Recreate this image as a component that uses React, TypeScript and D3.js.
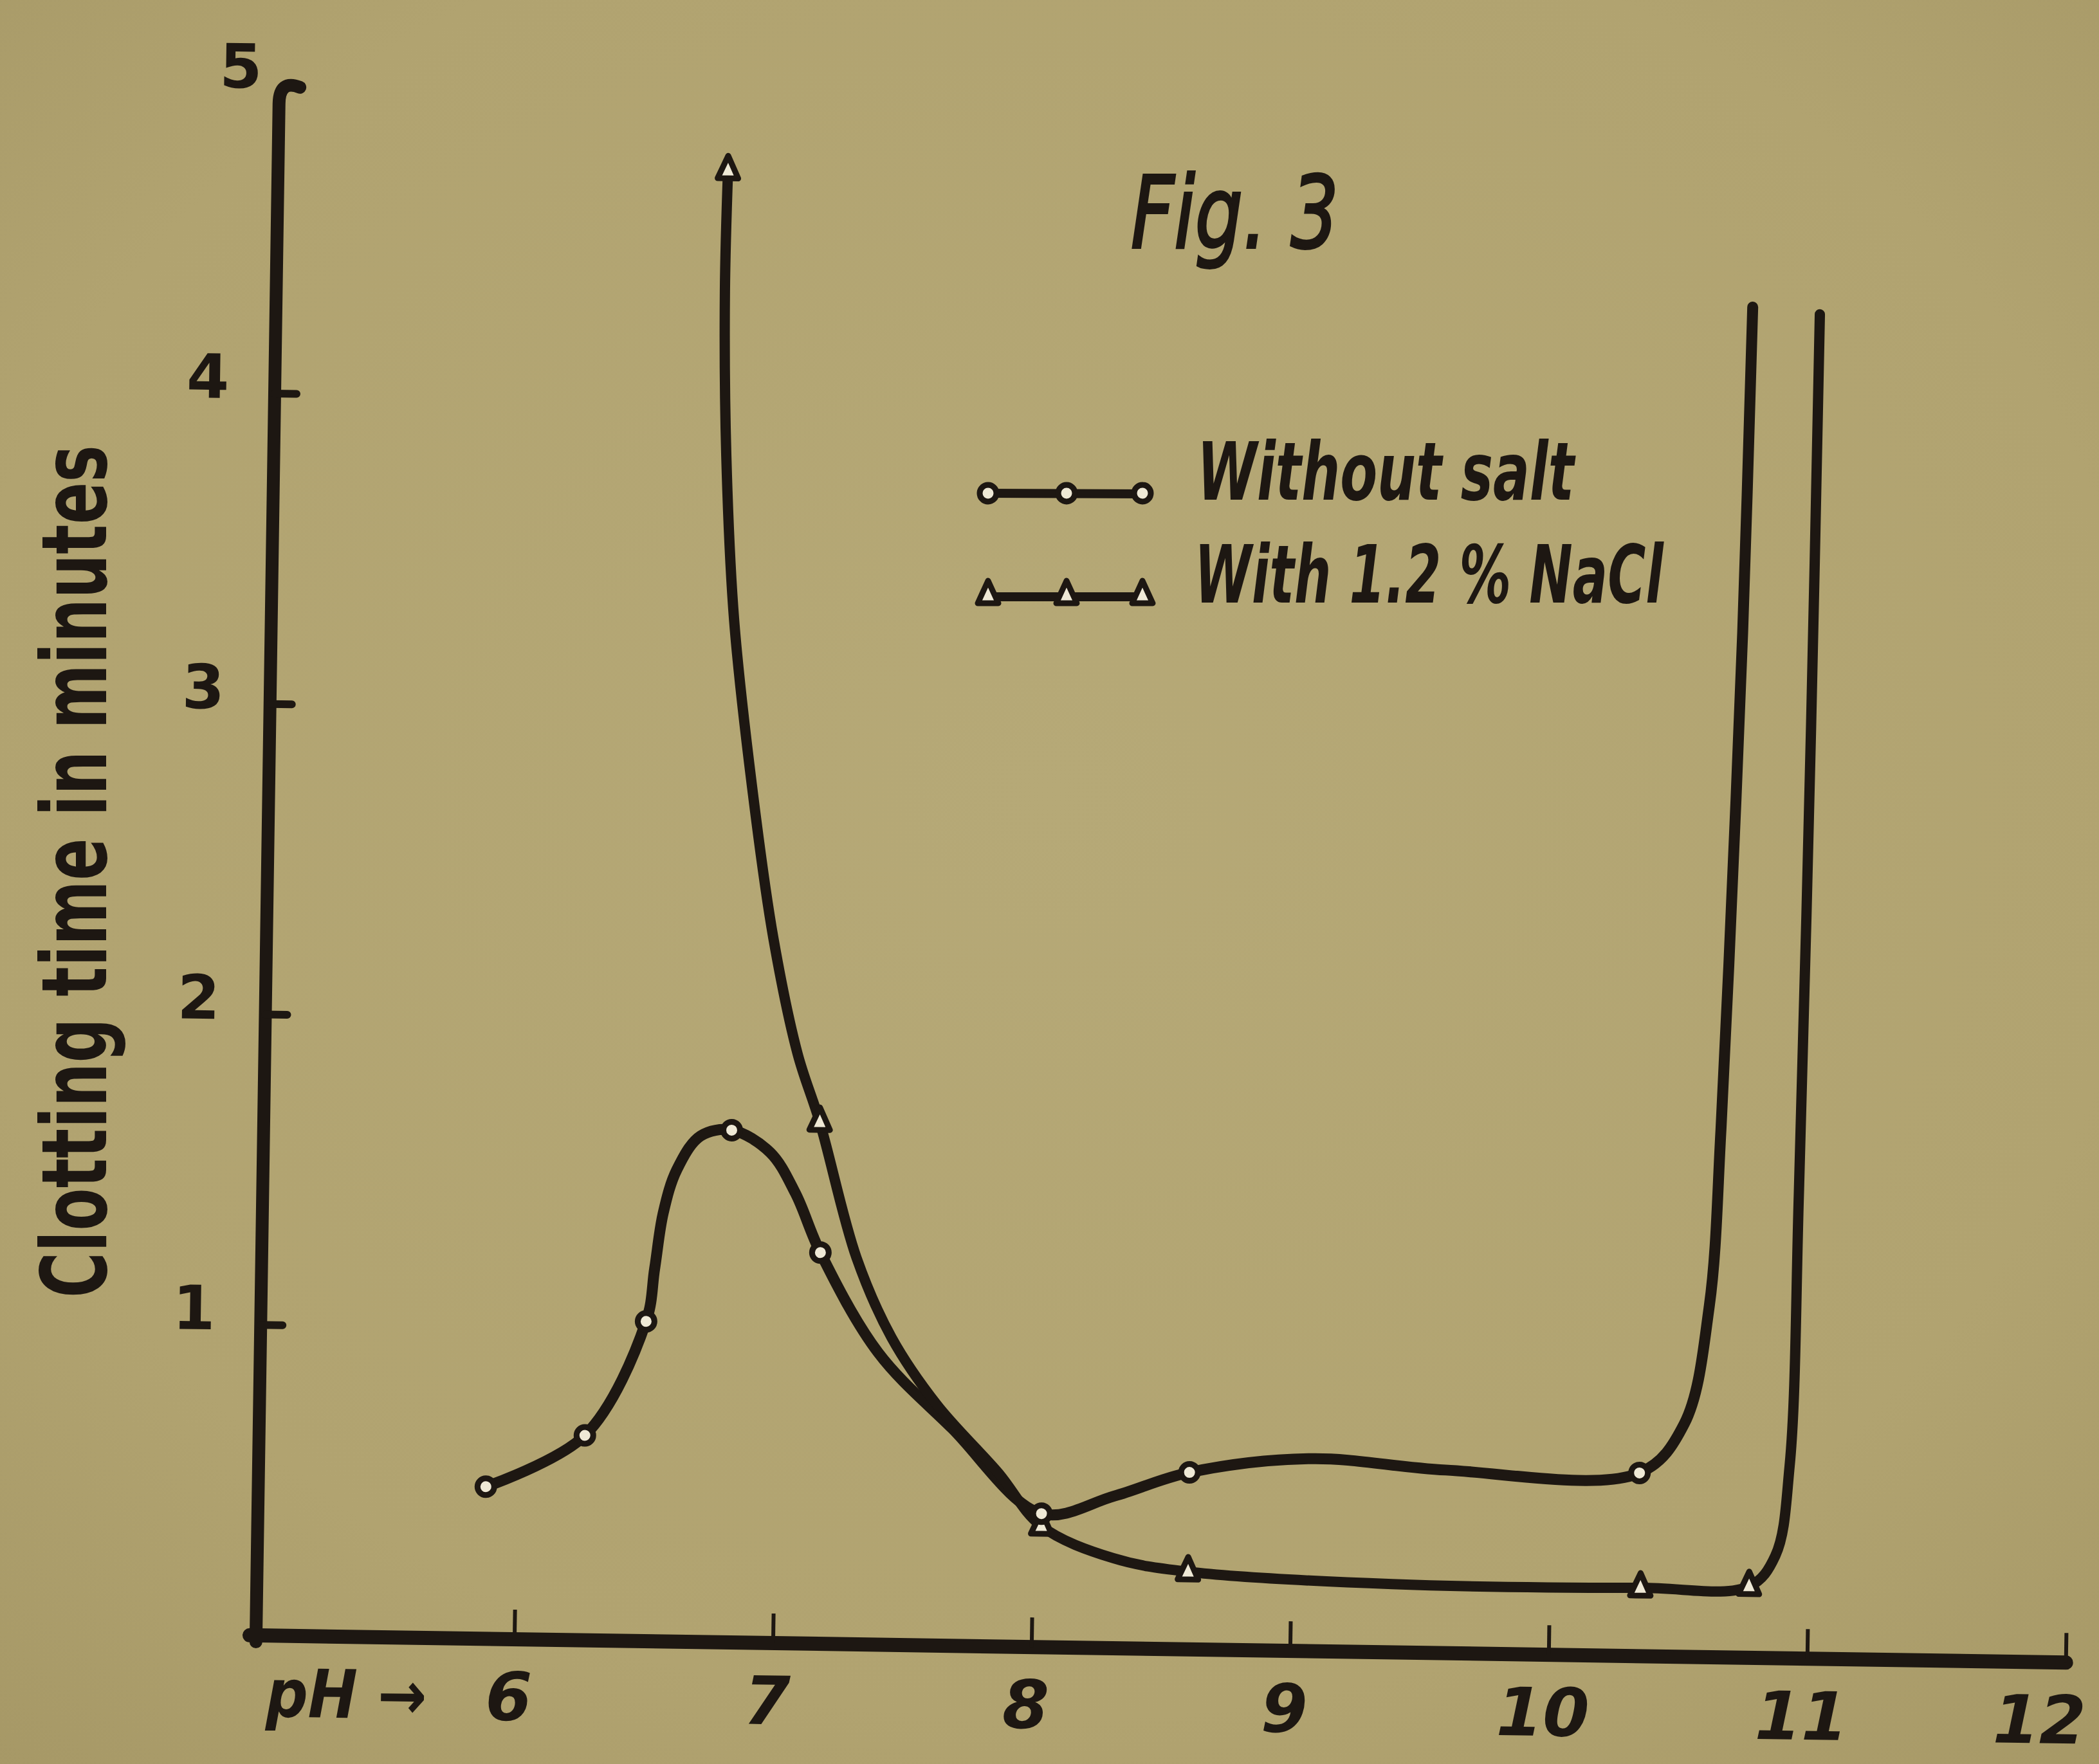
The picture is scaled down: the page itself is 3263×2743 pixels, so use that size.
import React, { useEffect } from 'react';
import * as d3 from 'd3';

// ---------- data ----------
const phTicks = [6, 7, 8, 9, 10, 11, 12];
const timeTicks = [1, 2, 3, 4, 5];
const figTitle = 'Fig. 3';
const yTitle = 'Clotting time in minutes';
const xTitle = 'pH \u2192';
const seriesNames = ['Without salt', 'With 1.2 % NaCl'];

// Without salt – measured points (open circles)
const noSaltMarkers: [number, number][] = [
  [5.88, 0.49], [6.26, 0.66], [6.49, 1.03], [6.81, 1.65], [7.16, 1.26],
  [8.03, 0.43], [8.60, 0.57], [10.34, 0.59],
];
// Without salt – traced course of the hand-drawn curve
const noSaltCurve: [number, number][] = [
  [5.88, 0.49], [6.26, 0.66], [6.49, 1.03], [6.52, 1.20], [6.55, 1.38],
  [6.60, 1.52], [6.69, 1.63], [6.81, 1.65], [6.96, 1.58], [7.06, 1.45],
  [7.16, 1.26], [7.39, 0.94], [7.68, 0.70], [8.03, 0.43], [8.31, 0.49],
  [8.60, 0.57], [9.07, 0.62], [9.59, 0.59], [10.34, 0.59], [10.51, 0.75],
  [10.60, 1.13], [10.635, 1.70], [10.665, 2.50], [10.69, 3.30], [10.71, 4.35],
];

// With 1.2 % NaCl – measured points (open triangles)
const saltMarkers: [number, number][] = [
  [6.74, 4.74], [7.15, 1.68], [8.03, 0.39], [8.60, 0.25], [10.35, 0.22], [10.77, 0.23],
];
// With 1.2 % NaCl – traced course of the hand-drawn curve
const saltCurve: [number, number][] = [
  [6.74, 4.74], [6.735, 4.35], [6.75, 3.82], [6.79, 3.29], [6.88, 2.69],
  [6.96, 2.27], [7.06, 1.90], [7.15, 1.68], [7.30, 1.245], [7.44, 0.99],
  [7.62, 0.775], [7.86, 0.56], [8.03, 0.39], [8.31, 0.29], [8.60, 0.25],
  [9.39, 0.22], [10.35, 0.22], [10.77, 0.23], [10.87, 0.33], [10.92, 0.62],
  [10.94, 1.50], [10.96, 3.00], [10.97, 4.33],
];

// ---------- styling ----------
const W = 3263;
const H = 2743;
const INK = '#1d1712';
const HOLE = '#efe9d6';
const FONT = '"DejaVu Sans", "Liberation Sans", sans-serif';

function CircleMark({ cx, cy }: { cx: number; cy: number }) {
  return <circle cx={cx} cy={cy} r={13} fill={HOLE} stroke={INK} strokeWidth={9} />;
}
function TriMark({ cx, cy }: { cx: number; cy: number }) {
  return (
    <path
      d="M0,-23 L16,12 L-16,12 Z"
      transform={`translate(${cx},${cy})`}
      fill={HOLE}
      stroke={INK}
      strokeWidth={9}
      strokeLinejoin="round"
    />
  );
}

export default function App() {
  useEffect(() => {
    document.body.style.margin = '0';
    document.documentElement.style.overflow = 'hidden';
  }, []);

  const x0 = 398;
  const y0 = 2543;
  const x = d3.scaleLinear().domain([5, 12]).range([x0, x0 + 7 * 402]);
  const y = d3.scaleLinear().domain([0, 5]).range([y0, y0 - 5 * 482.8]);
  const line = d3
    .line<[number, number]>()
    .x((d) => x(d[0]))
    .y((d) => y(d[1]))
    .curve(d3.curveCatmullRom.alpha(0.5));

  const tilt = 0.86; // the scanned sheet is slightly rotated
  const yTop = y(5);

  return (
    <svg
      width={W}
      height={H}
      viewBox={`0 0 ${W} ${H}`}
      style={{ position: 'absolute', left: 0, top: 0, display: 'block' }}
    >
      <defs>
        <radialGradient id="paper" cx="50%" cy="45%" r="75%">
          <stop offset="0%" stopColor="#b6a977" />
          <stop offset="70%" stopColor="#b1a370" />
          <stop offset="100%" stopColor="#a69866" />
        </radialGradient>
      </defs>
      <rect x={0} y={0} width={W} height={H} fill="url(#paper)" />

      <g transform={`rotate(${tilt},${x0},${y0})`}>
        {/* y axis with curled top */}
        <path
          d={`M${x0},${y0 + 10} L${x0},${yTop + 32} Q${x0},${yTop - 6} ${x0 + 32},${yTop + 6}`}
          fill="none"
          stroke={INK}
          strokeWidth={20}
          strokeLinecap="round"
        />
        {timeTicks.slice(0, 4).map((t) => (
          <line key={'yt' + t} x1={x0} x2={x0 + 34} y1={y(t)} y2={y(t)} stroke={INK} strokeWidth={12} strokeLinecap="round" />
        ))}
        {timeTicks.map((t) => (
          <text
            key={'yl' + t}
            x={t === 5 ? x0 - 60 : x0 - 104}
            y={y(t) + 8}
            textAnchor="middle"
            fontFamily={FONT}
            fontWeight="bold"
            fontSize={95}
            fill={INK}
          >
            {t}
          </text>
        ))}

        {/* x axis */}
        <line x1={x0 - 10} x2={x(12)} y1={y0} y2={y0} stroke={INK} strokeWidth={22} strokeLinecap="round" />
        {phTicks.map((p) => (
          <line key={'xt' + p} x1={x(p)} x2={x(p)} y1={y0} y2={y0 - 46} stroke={INK} strokeWidth={6} />
        ))}
        {phTicks.map((p) => (
          <text
            key={'xl' + p}
            x={p === 12 ? x(p) - 40 : x(p) - 8}
            y={y0 + 126}
            textAnchor="middle"
            fontFamily={FONT}
            fontWeight="bold"
            fontStyle="italic"
            fontSize={104}
            fill={INK}
          >
            {p}
          </text>
        ))}
        <text
          x={x0 + 142}
          y={y0 + 126}
          textAnchor="middle"
          fontFamily={FONT}
          fontWeight="bold"
          fontStyle="italic"
          fontSize={104}
          fill={INK}
          textLength={250}
          lengthAdjust="spacingAndGlyphs"
        >
          {xTitle}
        </text>

        {/* curves */}
        <path d={line(noSaltCurve) || ''} fill="none" stroke={INK} strokeWidth={17} strokeLinecap="round" strokeLinejoin="round" />
        <path d={line(saltCurve) || ''} fill="none" stroke={INK} strokeWidth={16} strokeLinecap="round" strokeLinejoin="round" />

        {saltMarkers.map((d, i) => (
          <TriMark key={'tm' + i} cx={x(d[0])} cy={y(d[1])} />
        ))}
        {noSaltMarkers.map((d, i) => (
          <CircleMark key={'cm' + i} cx={x(d[0])} cy={y(d[1])} />
        ))}
      </g>

      {/* y axis title */}
      <text
        transform="translate(165,1355) rotate(-90)"
        textAnchor="middle"
        fontFamily={FONT}
        fontWeight="bold"
        fontSize={140}
        fill={INK}
        textLength={1326}
        lengthAdjust="spacingAndGlyphs"
      >
        {yTitle}
      </text>

      {/* figure title */}
      <text
        x={1758}
        y={385}
        fontFamily={FONT}
        fontStyle="italic"
        fontSize={155}
        fill={INK}
        stroke={INK}
        strokeWidth={4}
        textLength={323}
        lengthAdjust="spacingAndGlyphs"
      >
        {figTitle}
      </text>

      {/* legend */}
      <g>
        <line x1={1536} x2={1776} y1={767} y2={768} stroke={INK} strokeWidth={14} />
        {[1536, 1658, 1776].map((cx) => (
          <CircleMark key={'lc' + cx} cx={cx} cy={767} />
        ))}
        <text
          x={1861}
          y={777}
          fontFamily={FONT}
          fontWeight="bold"
          fontStyle="italic"
          fontSize={125}
          fill={INK}
          textLength={586}
          lengthAdjust="spacingAndGlyphs"
        >
          {seriesNames[0]}
        </text>

        <line x1={1536} x2={1776} y1={928} y2={928} stroke={INK} strokeWidth={14} />
        {[1536, 1658, 1776].map((cx) => (
          <TriMark key={'lt' + cx} cx={cx} cy={926} />
        ))}
        <text
          x={1857}
          y={937}
          fontFamily={FONT}
          fontWeight="bold"
          fontStyle="italic"
          fontSize={125}
          fill={INK}
          textLength={729}
          lengthAdjust="spacingAndGlyphs"
        >
          {seriesNames[1]}
        </text>
      </g>
    </svg>
  );
}
